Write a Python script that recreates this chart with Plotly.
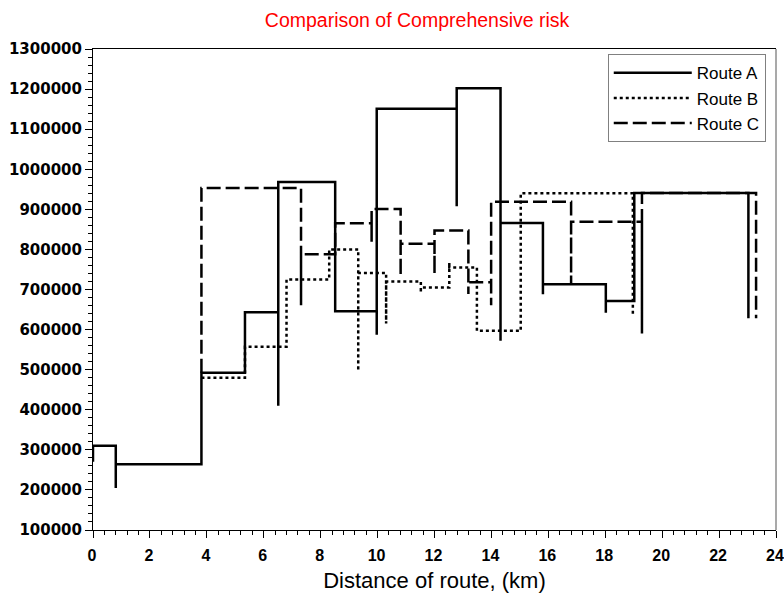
import plotly.graph_objects as go

# Route vertices (distance in km, comprehensive risk)
route_a_x = [0, 0, 0.80, 0.80, 0.80, 3.81, 3.81, 5.34, 5.34, 6.51, 6.51, 6.51, 8.51, 8.51,
             9.97, 9.97, 9.97, 12.78, 12.78, 12.78, 14.32, 14.32, 14.32, 15.81, 15.81, 15.81,
             18.02, 18.02, 18.02, 19.02, 19.02, 23.03, 23.03]
route_a_y = [270000, 310000, 310000, 205000, 264000, 264000, 492000, 492000, 643000, 643000,
             410000, 968000, 968000, 646000, 646000, 587000, 1151000, 1151000, 908000, 1202000,
             1202000, 572000, 866000, 866000, 688000, 713000, 713000, 642000, 671000, 671000,
             941000, 941000, 628000]

route_b_x = [3.81, 5.34, 5.34, 6.80, 6.80, 8.30, 8.30, 9.32, 9.32, 9.32, 10.30, 10.30, 10.30,
             11.52, 11.52, 11.52, 12.52, 12.52, 12.52, 13.49, 13.49, 15.03, 15.03, 18.97, 18.97]
route_b_y = [480000, 480000, 557000, 557000, 725000, 725000, 800000, 800000, 497000, 741000,
             741000, 615000, 720000, 720000, 692000, 705000, 705000, 767000, 755000, 755000,
             597000, 597000, 940000, 940000, 632000]

route_c_x = [3.81, 3.81, 7.31, 7.31, 7.31, 8.51, 8.51, 9.79, 9.79, 9.79, 10.81, 10.81, 10.81,
             12.00, 12.00, 12.00, 13.19, 13.19, 13.19, 13.99, 13.99, 13.99, 16.80, 16.80, 16.80,
             19.29, 19.29, 19.29, 23.30, 23.30]
route_c_y = [492000, 953000, 953000, 661000, 788000, 788000, 865000, 865000, 819000, 901000,
             901000, 734000, 814000, 814000, 739000, 847000, 847000, 689000, 718000, 718000,
             661000, 919000, 919000, 715000, 869000, 869000, 590000, 941000, 941000, 628000]

y_ticks = [100000, 200000, 300000, 400000, 500000, 600000, 700000,
           800000, 900000, 1000000, 1100000, 1200000, 1300000]
x_ticks = [0, 2, 4, 6, 8, 10, 12, 14, 16, 18, 20, 22, 24]

ARIAL = "Liberation Sans, Arial, sans-serif"

fig = go.Figure()
fig.add_trace(go.Scatter(x=route_c_x, y=route_c_y, mode="lines", name="Route C",
                         line=dict(color="black", width=2.5, dash="14px,5px")))
fig.add_trace(go.Scatter(x=route_b_x, y=route_b_y, mode="lines", name="Route B",
                         line=dict(color="black", width=2.5, dash="dot")))
fig.add_trace(go.Scatter(x=route_a_x, y=route_a_y, mode="lines", name="Route A",
                         line=dict(color="black", width=2.5)))

fig.update_layout(
    width=784, height=597,
    margin=dict(l=93, r=8, t=49, b=67),
    paper_bgcolor="white", plot_bgcolor="white",
    hovermode=False,
    title=dict(text="Comparison of Comprehensive risk", x=0.532, xanchor="center",
               y=0.966, yanchor="middle", font=dict(family=ARIAL, size=19.5, color="red")),
    showlegend=True,
    legend=dict(x=0.985, xanchor="right", y=0.989, yanchor="top", traceorder="reversed",
                bgcolor="white", bordercolor="#808080", borderwidth=1,
                font=dict(family=ARIAL, size=17, color="black"), itemwidth=78),
    xaxis=dict(range=[0, 24], tickvals=x_ticks, ticktext=[str(v) for v in x_ticks],
               automargin=False, ticklabeloverflow="allow", ticklabelstandoff=4,
               ticklabelshift=-1,
               showgrid=False, zeroline=False, showline=True, linecolor="black", linewidth=1,
               mirror=True, ticks="outside", ticklen=7, tickcolor="black",
               minor=dict(dtick=0.4, ticks="outside", ticklen=4, tickcolor="black"),
               tickfont=dict(family=ARIAL, size=16, color="black", weight="bold"),
               title=dict(text="Distance of route, (km)", font=dict(family=ARIAL, size=22, color="black"),
                          standoff=9)),
    yaxis=dict(range=[100000, 1300000], tickvals=y_ticks, ticktext=[str(v) for v in y_ticks],
               automargin=False, ticklabeloverflow="allow",
               showgrid=False, zeroline=False, showline=True, linecolor="black", linewidth=1,
               ticks="outside", ticklen=7, tickcolor="black",
               minor=dict(dtick=20000, ticks="outside", ticklen=4, tickcolor="black"),
               tickfont=dict(family="DejaVu Sans", size=15, color="black", weight="bold")),
    shapes=[dict(type="line", xref="paper", yref="paper", x0=1, x1=1, y0=0, y1=1,
                 line=dict(color="#8c8c8c", width=1.5))],
)

# remove the browser's default page margin so the 784x597 figure fills the window exactly
fig.write_html("out.html", config={"displayModeBar": False},
               post_script="document.body.style.margin='0';document.body.style.overflow='hidden';")
